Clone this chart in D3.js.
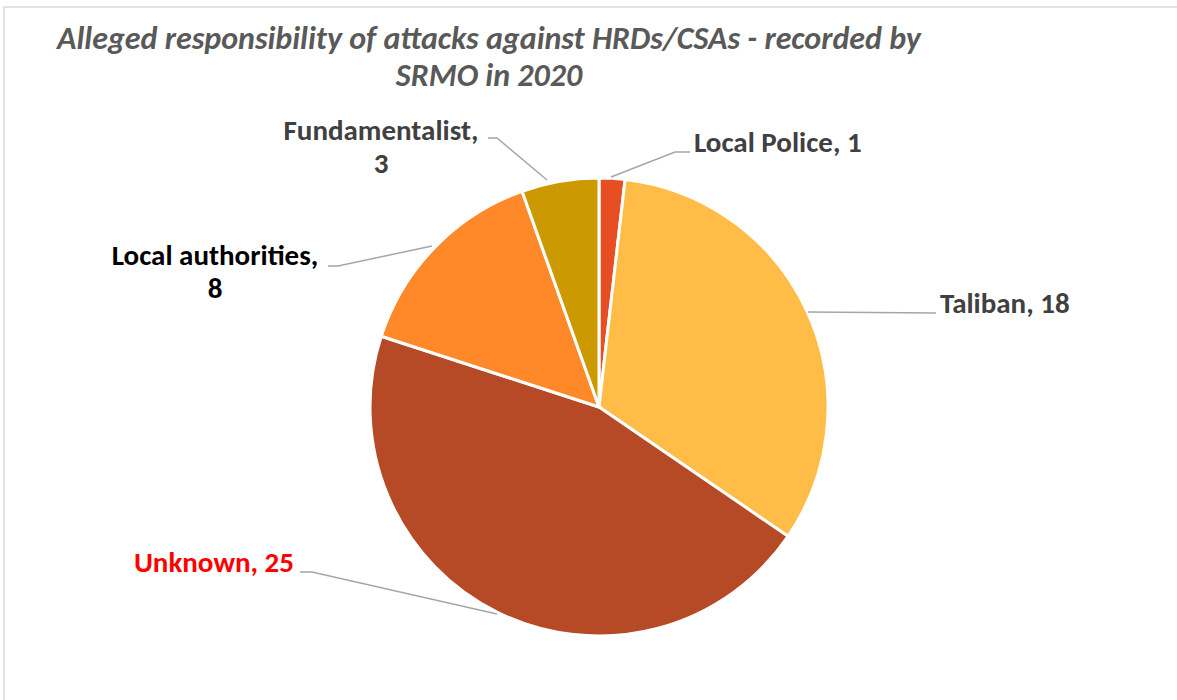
<!DOCTYPE html>
<html><head><meta charset="utf-8">
<script src="https://cdn.jsdelivr.net/npm/d3@7"></script>
<style>html,body{margin:0;padding:0;background:#fff;overflow:hidden}</style>
</head><body>
<svg id="chart" width="1177" height="700"></svg>
<script>
const categories = ["Local Police", "Taliban", "Unknown", "Local authorities", "Fundamentalist"];
const values = [1, 18, 25, 8, 3];
const colors = ["#E84E23", "#FFBC47", "#B64A26", "#FF8828", "#CC9A00"];
const labelColors = ["#404040", "#404040", "#FF0000", "#000000", "#404040"];
const titleLines = ["Alleged responsibility of attacks against HRDs/CSAs - recorded by", "SRMO in 2020"];

const svg = d3.select("#chart");
const font = "Carlito, Lato, 'Open Sans', sans-serif";

// chart border
svg.append("rect").attr("x", 4).attr("y", 7).attr("width", 1200).attr("height", 720)
  .attr("fill", "none").attr("stroke", "#D9D9D9").attr("stroke-width", 1.5);

// title
const title = svg.append("text").attr("font-family", font).attr("font-style", "italic")
  .attr("font-weight", "bold").attr("font-size", 32).attr("fill", "#595959").attr("text-anchor", "middle");
title.append("tspan").attr("x", 489).attr("y", 49).text(titleLines[0]);
title.append("tspan").attr("x", 489).attr("y", 86).text(titleLines[1]);

const cx = 599, cy = 407, r = 229;
const pie = d3.pie().sort(null).value(d => d)(values);
const arc = d3.arc().innerRadius(0).outerRadius(r);
const g = svg.append("g").attr("transform", `translate(${cx},${cy})`);
g.selectAll("path").data(pie).join("path")
  .attr("d", arc).attr("fill", (d, i) => colors[i])
  .attr("stroke", "#fff").attr("stroke-width", 3).attr("stroke-linejoin", "round");

// leader lines and labels
const labels = [
  {lines: ["Local Police, 1"], x: 694, y: 152, anchor: "start",
   pts: [[611,177],[675,152],[690,152]]},
  {lines: ["Taliban, 18"], x: 940, y: 313, anchor: "start",
   pts: [[808,312],[936,313]]},
  {lines: ["Unknown, 25"], x: 294, y: 572, anchor: "end",
   pts: [[497,614],[312,572],[300,572]]},
  {lines: ["Local authorities,", "8"], x: 215, y: 265, anchor: "middle",
   pts: [[432,246],[338,266],[328,266]]},
  {lines: ["Fundamentalist,", "3"], x: 381, y: 140, anchor: "middle",
   pts: [[547,180],[497,138],[488,138]]}
];
labels.forEach((L, i) => {
  svg.append("polyline").attr("points", L.pts.map(p => p.join(",")).join(" "))
    .attr("fill", "none").attr("stroke", "#A6A6A6").attr("stroke-width", 1.5);
  const t = svg.append("text").attr("font-family", font).attr("font-weight", "bold")
    .attr("font-size", 29).attr("fill", labelColors[i]).attr("text-anchor", L.anchor);
  L.lines.forEach((s, k) => t.append("tspan").attr("x", L.x).attr("y", L.y + k * 33).text(s));
});
</script>
</body></html>
